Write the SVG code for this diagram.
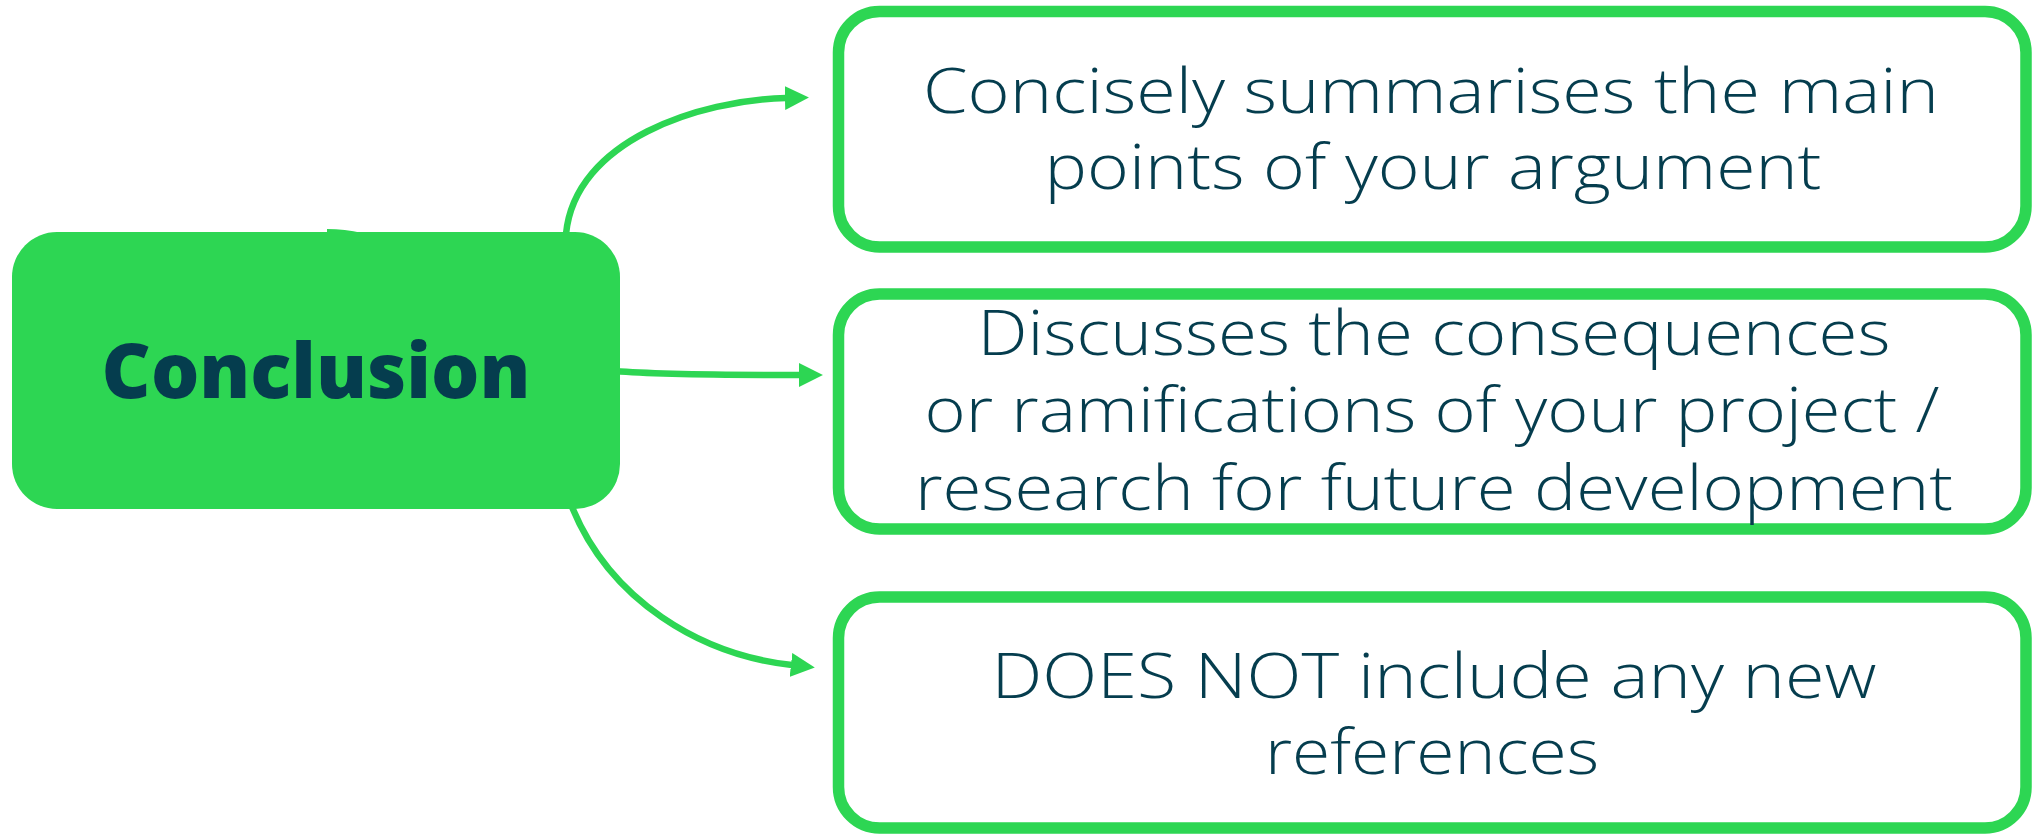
<svg xmlns="http://www.w3.org/2000/svg" width="2039" height="834" viewBox="0 0 2039 834">
<style>
.box{fill:#ffffff;stroke:#2dd653;stroke-width:11.5}
.main{fill:#2dd653}
.conn{fill:none;stroke:#2dd653;stroke-width:6.5}
.t{font-family:"Open Sans","Liberation Sans",sans-serif;font-weight:300;font-size:62px;fill:#053d4e;text-anchor:middle}
.tm{font-family:"Open Sans","Liberation Sans",sans-serif;font-weight:800;font-size:76px;fill:#053d4e;text-anchor:middle}
</style>
<defs>
<marker id="ah" markerUnits="userSpaceOnUse" markerWidth="24" markerHeight="24" viewBox="0 0 23 23" refX="1" refY="11.5" orient="auto">
<path d="M0,0 L23,11.5 L0,23 Z" fill="#2dd653"/>
</marker>
</defs>
<g id="connectors">
<path class="conn" d="M566,234 C575,140 700,100 786,98" marker-end="url(#ah)"/>
<path class="conn" d="M615,371 C650,374 700,375 800,375" marker-end="url(#ah)"/>
<path class="conn" d="M572,507 C610,600 700,655 792,665" marker-end="url(#ah)"/>
<path d="M327,233 L327,229 Q345,229 362,233 Z" fill="#2dd653"/>
</g>
<g id="conclusion">
<rect class="main" x="12" y="232" width="608" height="277" rx="45" ry="45"/>
<text class="tm" x="316" y="398" textLength="429" lengthAdjust="spacingAndGlyphs">Conclusion</text>
</g>
<g id="summary">
<rect class="box" x="838.5" y="11.5" width="1187.5" height="235.5" rx="41" ry="41"/>
<text class="t" x="1431" y="113" textLength="1016" lengthAdjust="spacingAndGlyphs">Concisely summarises the main</text>
<text class="t" x="1433" y="189" textLength="777" lengthAdjust="spacingAndGlyphs">points of your argument</text>
</g>
<g id="consequences">
<rect class="box" x="838.5" y="294" width="1187.5" height="235" rx="41" ry="41"/>
<text class="t" x="1434" y="355" textLength="913" lengthAdjust="spacingAndGlyphs">Discusses the consequences</text>
<text class="t" x="1432" y="432" textLength="1015" lengthAdjust="spacingAndGlyphs">or ramifications of your project /</text>
<text class="t" x="1434" y="510" textLength="1038" lengthAdjust="spacingAndGlyphs">research for future development</text>
</g>
<g id="references">
<rect class="box" x="838.5" y="597" width="1187.5" height="231" rx="41" ry="41"/>
<text class="t" x="1434" y="698" textLength="885" lengthAdjust="spacingAndGlyphs">DOES NOT include any new</text>
<text class="t" x="1432" y="774" textLength="334" lengthAdjust="spacingAndGlyphs">references</text>
</g>
</svg>
